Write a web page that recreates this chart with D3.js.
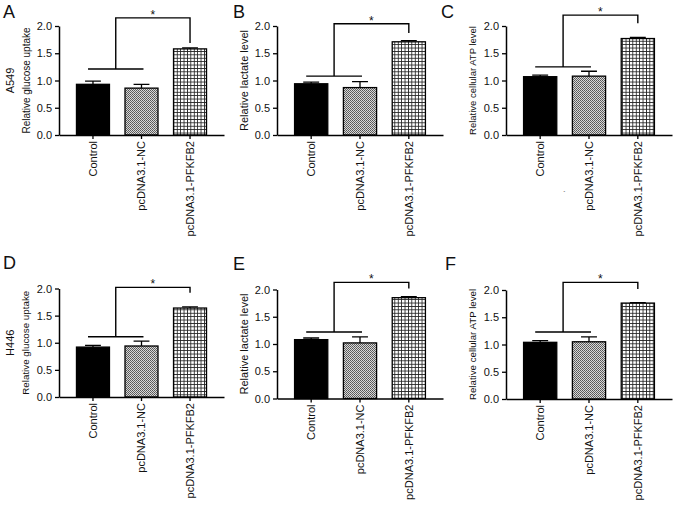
<!DOCTYPE html>
<html>
<head>
<meta charset="utf-8">
<script src="https://cdn.jsdelivr.net/npm/d3@7"></script>
<style>
  body { margin: 0; background: #fff; }
  text { font-family: "Liberation Sans", Arial, sans-serif; fill: #111; }
</style>
</head>
<body>
<div id="chart"></div>
<script>
// data
const categories = ["Control", "pcDNA3.1-NC", "pcDNA3.1-PFKFB2"];
const yTicks = [0, 0.5, 1.0, 1.5, 2.0];
const panelLetters = ["A", "B", "C", "D", "E", "F"];
const cellLines = ["A549", "", "", "H446", "", ""];
const yLabels = [
    "Relative glucose uptake", "Relative lactate level", "Relative cellular ATP level",
    "Relative glucose uptake", "Relative lactate level", "Relative cellular ATP level"
];
const means = [
    [0.93, 0.86, 1.58],
    [0.94, 0.87, 1.71],
    [1.07, 1.08, 1.77],
    [0.92, 0.94, 1.64],
    [1.08, 1.02, 1.85],
    [1.04, 1.05, 1.76]
];
const errors = [
    [0.06, 0.07, 0.02],
    [0.03, 0.11, 0.02],
    [0.03, 0.09, 0.02],
    [0.03, 0.09, 0.02],
    [0.03, 0.11, 0.02],
    [0.03, 0.09, 0.01]
];
// significance brackets: lower bar, top bar, end of right leg
const bracketLow = [1.21, 1.08, 1.25, 1.11, 1.22, 1.23];
const bracketTop = [2.15, 2.04, 2.20, 2.02, 2.13, 2.14];
const bracketEnd = [1.69, 1.87, 2.05, 1.92, 2.02, 2.02];

// panel placement (pixels)
const layout = [
    {ax: 59,  end: 224, y0: 135,   y2: 26,    lx: 3,   ly: 18,  lab: 10},
    {ax: 277, end: 443, y0: 135,   y2: 26,    lx: 233, ly: 18,  lab: 11},
    {ax: 506, end: 672, y0: 135,   y2: 26,    lx: 441, ly: 18,  lab: 9.5},
    {ax: 59,  end: 224, y0: 397,   y2: 288.5, lx: 3,   ly: 269, lab: 9.8},
    {ax: 277, end: 443, y0: 398.5, y2: 289.5, lx: 233, ly: 270, lab: 11},
    {ax: 506, end: 672, y0: 399,   y2: 290,   lx: 445, ly: 270, lab: 9.7}
];

const svg = d3.select("#chart").append("svg")
    .attr("width", 677)
    .attr("height", 505);

// bar fills
const defs = svg.append("defs");
const dots = defs.append("pattern")
    .attr("id", "dots")
    .attr("patternUnits", "userSpaceOnUse")
    .attr("width", 2).attr("height", 2);
dots.append("rect").attr("width", 2).attr("height", 2).attr("fill", "#d8d8d8");
dots.append("rect").attr("width", 1).attr("height", 1).attr("fill", "#555");
dots.append("rect").attr("x", 1).attr("y", 1).attr("width", 1).attr("height", 1).attr("fill", "#666");

const grid = defs.append("pattern")
    .attr("id", "grid")
    .attr("patternUnits", "userSpaceOnUse")
    .attr("width", 3.4).attr("height", 3.4);
grid.append("rect").attr("width", 3.4).attr("height", 3.4).attr("fill", "#fff");
grid.append("path")
    .attr("d", "M0,0.4H3.4M0.4,0V3.4")
    .attr("stroke", "#222")
    .attr("stroke-width", 0.9);

const fills = ["#000", "url(#dots)", "url(#grid)"];

panelLetters.forEach(function(letter, i) {
    const L = layout[i];
    const g = svg.append("g");

    const x = d3.scaleBand()
        .domain(categories)
        .range([L.ax, L.end])
        .paddingInner(0.32)
        .paddingOuter(0.36);

    const y = d3.scaleLinear()
        .domain([0, 2])
        .range([L.y0, L.y2]);

    const bw = x.bandwidth();

    // bars
    g.selectAll("rect.bar")
        .data(categories)
        .enter().append("rect")
        .attr("class", "bar")
        .attr("x", d => x(d))
        .attr("y", (d, j) => y(means[i][j]))
        .attr("width", bw)
        .attr("height", (d, j) => y(0) - y(means[i][j]))
        .attr("fill", (d, j) => fills[j])
        .attr("stroke", "#000")
        .attr("stroke-width", 1.3);

    // error bars (upper only)
    g.selectAll("path.err")
        .data(categories)
        .enter().append("path")
        .attr("class", "err")
        .attr("d", function(d, j) {
            const cx = x(d) + bw / 2;
            const top = y(means[i][j] + errors[i][j]);
            const half = bw * 0.24;
            return `M${cx},${y(means[i][j])}V${top}M${cx - half},${top}H${cx + half}`;
        })
        .attr("fill", "none")
        .attr("stroke", "#000")
        .attr("stroke-width", 1.3);

    // axes
    g.append("g")
        .attr("transform", `translate(${L.ax},0)`)
        .call(d3.axisLeft(y).tickValues(yTicks).tickFormat(d3.format(".1f")).tickSize(4).tickPadding(3).tickSizeOuter(0))
        .call(a => a.select(".domain").attr("stroke-width", 1.5))
        .call(a => a.selectAll(".tick line").attr("stroke-width", 1.3))
        .call(a => a.selectAll("text").attr("font-size", 11).attr("font-family", null));

    g.append("g")
        .attr("transform", `translate(0,${L.y0})`)
        .call(d3.axisBottom(x).tickSize(4).tickPadding(2).tickSizeOuter(0))
        .call(a => a.select(".domain").attr("stroke-width", 1.5))
        .call(a => a.selectAll(".tick line").attr("stroke-width", 1.3))
        .call(a => a.selectAll("text")
            .attr("font-size", 11)
            .attr("font-family", null)
            .attr("text-anchor", "end")
            .attr("transform", "rotate(-90)")
            .attr("x", -6)
            .attr("y", 0)
            .attr("dy", "0.35em"));

    // significance bracket
    const c0 = x(categories[0]) + bw * 0.35;
    const c1 = x(categories[1]) + bw * 0.56;
    const mid = (c0 + c1) / 2;
    const right = x(categories[2]) + bw / 2;
    g.append("path")
        .attr("d", `M${c0},${y(bracketLow[i])}H${c1}M${mid},${y(bracketLow[i])}V${y(bracketTop[i])}H${right}V${y(bracketEnd[i])}`)
        .attr("fill", "none")
        .attr("stroke", "#000")
        .attr("stroke-width", 1.4);
    g.append("text")
        .attr("x", (mid + right) / 2)
        .attr("y", y(bracketTop[i]) + 1)
        .attr("text-anchor", "middle")
        .attr("font-size", 12)
        .text("*");

    // y label(s)
    const cy = (L.y0 + L.y2) / 2;
    g.append("text")
        .attr("transform", `translate(${L.ax - 33},${cy}) rotate(-90)`)
        .attr("text-anchor", "middle")
        .attr("dy", "0.35em")
        .attr("font-size", L.lab)
        .text(yLabels[i]);
    if (cellLines[i]) {
        g.append("text")
            .attr("transform", `translate(${L.ax - 49},${cy}) rotate(-90)`)
            .attr("text-anchor", "middle")
            .attr("dy", "0.35em")
            .attr("font-size", 11)
            .text(cellLines[i]);
    }

    // panel letter
    g.append("text")
        .attr("x", L.lx)
        .attr("y", L.ly)
        .attr("font-size", 18)
        .text(letter);
});

// stray mark in panel C of the original
svg.append("text")
    .attr("x", 563)
    .attr("y", 196)
    .attr("font-size", 8)
    .text("`");
</script>
</body>
</html>
